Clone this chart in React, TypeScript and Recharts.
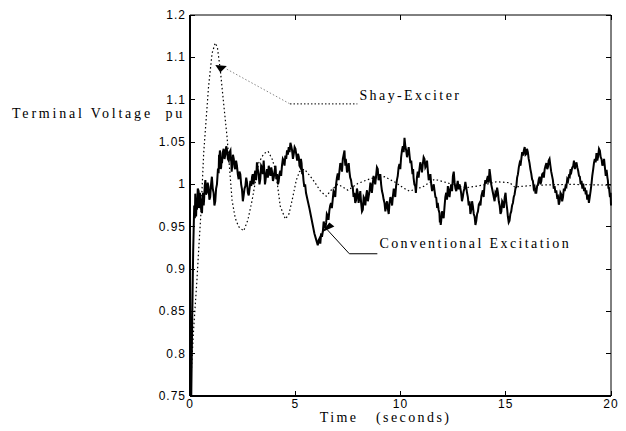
import React from 'react';
import {
  LineChart,
  Line,
  XAxis,
  YAxis,
  ReferenceLine,
  ReferenceDot,
} from 'recharts';

// time (s), terminal voltage (pu)
const shayPoints: [number, number][] = [
  [0, 0.75], [0.17, 0.828], [0.33, 0.887], [0.41, 0.922], [0.52, 0.966],
  [0.65, 1.037], [0.88, 1.115], [1.05, 1.155], [1.2, 1.167], [1.3, 1.162],
  [1.44, 1.135], [1.6, 1.095], [1.76, 1.056], [2.0, 0.981], [2.15, 0.96],
  [2.31, 0.95], [2.55, 0.945], [2.75, 0.958], [2.95, 0.981], [3.26, 1.025],
  [3.5, 1.036], [3.71, 1.039], [3.9, 1.03], [4.06, 1.017], [4.29, 0.974],
  [4.53, 0.959], [4.7, 0.965], [4.85, 0.981], [5.05, 1.005], [5.2, 1.015],
  [5.43, 1.018], [5.7, 1.01], [5.91, 1.003], [6.2, 0.992], [6.47, 0.986],
  [6.7, 0.993], [7.02, 1.0], [7.25, 0.997], [7.5, 0.993], [7.97, 1.001],
  [8.6, 1.007], [9.24, 1.009], [9.71, 1.003], [10.19, 0.995], [10.43, 0.992],
  [11.06, 0.997], [11.62, 1.006], [12.33, 1.001], [13.12, 0.996], [13.91, 0.999],
  [14.55, 1.003], [15.18, 1.002], [15.42, 0.997], [16.5, 0.999], [18, 1.0],
  [20, 0.999],
];

const conventionalPoints: [number, number][] = [
  [0, 0.955], [0.02, 0.76], [0.06, 0.75], [0.1, 0.83], [0.15, 0.92], [0.2, 0.975],
  [0.23, 0.96], [0.25, 0.989], [0.27, 0.97], [0.29, 0.962], [0.31, 0.98], [0.33, 0.97],
  [0.37, 0.995], [0.41, 0.992], [0.43, 0.972], [0.45, 0.975], [0.47, 0.99], [0.49, 0.985],
  [0.53, 0.97], [0.57, 0.966], [0.6, 0.985], [0.62, 0.99], [0.65, 0.975], [0.67, 0.982],
  [0.7, 0.998], [0.73, 1.005], [0.76, 0.988], [0.8, 0.99], [0.84, 1.002], [0.88, 0.997],
  [0.92, 0.982], [0.96, 0.985], [1.0, 1.0], [1.04, 1.009], [1.08, 0.995], [1.12, 0.99],
  [1.16, 0.975], [1.2, 0.98], [1.24, 0.995], [1.28, 1.0], [1.32, 1.015], [1.36, 1.013],
  [1.38, 1.035], [1.4, 1.03], [1.42, 1.04], [1.44, 1.037], [1.46, 1.018], [1.48, 1.02],
  [1.5, 1.03], [1.52, 1.025], [1.56, 1.038], [1.6, 1.042], [1.64, 1.03], [1.68, 1.035],
  [1.72, 1.045], [1.76, 1.04], [1.8, 1.03], [1.84, 1.028], [1.88, 1.038], [1.92, 1.04],
  [1.94, 1.03], [1.96, 1.027], [1.98, 1.015], [2.0, 1.021], [2.04, 1.035], [2.08, 1.03],
  [2.12, 1.02], [2.15, 1.018], [2.19, 1.028], [2.23, 1.022], [2.27, 1.012], [2.31, 1.006],
  [2.35, 1.015], [2.39, 1.012], [2.43, 1.0], [2.47, 0.994], [2.51, 0.98], [2.55, 0.987],
  [2.59, 0.995], [2.63, 0.998], [2.67, 1.008], [2.71, 1.002], [2.75, 0.99], [2.79, 0.987],
  [2.83, 0.995], [2.87, 1.004], [2.91, 0.998], [2.95, 1.009], [2.98, 1.012], [3.02, 1.0],
  [3.06, 1.01], [3.1, 1.016], [3.14, 1.005], [3.18, 1.026], [3.22, 1.018], [3.26, 1.012],
  [3.3, 1.0], [3.34, 1.006], [3.38, 1.022], [3.42, 1.02], [3.46, 1.012], [3.5, 1.028],
  [3.52, 1.02], [3.54, 1.01], [3.56, 1.0], [3.58, 1.003], [3.62, 1.012], [3.66, 1.018],
  [3.7, 1.008], [3.74, 1.022], [3.78, 1.015], [3.82, 1.01], [3.86, 1.02], [3.9, 1.015],
  [3.94, 1.004], [3.98, 1.008], [4.02, 1.016], [4.06, 1.022], [4.1, 1.006], [4.14, 1.012],
  [4.18, 1.0], [4.21, 1.003], [4.25, 1.012], [4.29, 1.016], [4.33, 1.01], [4.37, 1.022],
  [4.41, 1.03], [4.45, 1.028], [4.49, 1.022], [4.53, 1.034], [4.57, 1.03], [4.61, 1.04],
  [4.65, 1.035], [4.69, 1.044], [4.73, 1.038], [4.77, 1.049], [4.81, 1.045], [4.85, 1.04],
  [4.89, 1.03], [4.93, 1.036], [4.97, 1.044], [5.01, 1.042], [5.05, 1.035], [5.09, 1.028],
  [5.13, 1.036], [5.17, 1.032], [5.2, 1.022], [5.24, 1.02], [5.27, 1.03], [5.3, 1.025],
  [5.33, 1.012], [5.35, 1.018], [5.39, 1.005], [5.43, 0.997], [5.47, 1.0], [5.51, 0.99],
  [5.59, 0.981], [5.67, 0.972], [5.75, 0.962], [5.83, 0.952], [5.91, 0.942], [5.99, 0.935],
  [6.07, 0.928], [6.11, 0.934], [6.15, 0.936], [6.19, 0.93], [6.23, 0.942], [6.27, 0.938],
  [6.31, 0.944], [6.35, 0.956], [6.39, 0.952], [6.43, 0.948], [6.47, 0.955], [6.5, 0.965],
  [6.54, 0.963], [6.58, 0.958], [6.62, 0.969], [6.66, 0.975], [6.7, 0.978], [6.74, 0.972],
  [6.78, 0.982], [6.82, 0.992], [6.86, 0.99], [6.9, 0.985], [6.94, 1.0], [6.98, 1.008],
  [7.02, 1.013], [7.06, 1.005], [7.1, 1.016], [7.14, 1.025], [7.18, 1.022], [7.22, 1.015],
  [7.26, 1.03], [7.3, 1.035], [7.34, 1.04], [7.36, 1.028], [7.38, 1.022], [7.4, 1.03],
  [7.42, 1.026], [7.46, 1.014], [7.5, 1.02], [7.54, 1.025], [7.57, 1.016], [7.61, 1.008],
  [7.65, 1.005], [7.69, 0.998], [7.73, 0.997], [7.77, 0.985], [7.81, 0.99], [7.85, 0.978],
  [7.89, 0.981], [7.93, 0.995], [7.97, 0.99], [8.01, 0.978], [8.05, 0.985], [8.09, 0.992],
  [8.13, 0.978], [8.17, 0.968], [8.21, 0.97], [8.25, 0.985], [8.29, 0.983], [8.33, 0.975],
  [8.37, 0.987], [8.41, 0.993], [8.45, 0.98], [8.49, 0.986], [8.53, 0.992], [8.57, 1.002],
  [8.6, 0.998], [8.64, 0.99], [8.68, 1.0], [8.72, 1.01], [8.76, 1.006], [8.8, 1.0],
  [8.84, 1.01], [8.88, 1.02], [8.92, 1.018], [8.96, 1.005], [9.0, 1.008], [9.04, 1.012],
  [9.08, 1.0], [9.12, 0.992], [9.16, 0.988], [9.2, 0.982], [9.24, 0.978], [9.28, 0.968],
  [9.32, 0.975], [9.36, 0.98], [9.4, 0.971], [9.44, 0.965], [9.48, 0.978], [9.52, 0.985],
  [9.56, 0.982], [9.6, 0.975], [9.64, 0.986], [9.68, 0.995], [9.71, 0.99], [9.75, 0.985],
  [9.79, 0.998], [9.83, 1.005], [9.87, 1.01], [9.91, 1.02], [9.95, 1.024], [9.99, 1.018],
  [10.03, 1.032], [10.07, 1.04], [10.11, 1.045], [10.15, 1.038], [10.19, 1.055], [10.23, 1.045],
  [10.27, 1.04], [10.31, 1.032], [10.35, 1.038], [10.39, 1.044], [10.43, 1.034], [10.47, 1.025],
  [10.51, 1.028], [10.54, 1.02], [10.57, 1.012], [10.6, 1.018], [10.62, 1.008], [10.66, 1.0],
  [10.7, 0.998], [10.73, 0.99], [10.75, 0.996], [10.78, 1.008], [10.82, 1.015], [10.86, 1.008],
  [10.9, 1.018], [10.94, 1.026], [10.98, 1.021], [11.02, 1.014], [11.06, 1.024], [11.1, 1.032],
  [11.14, 1.03], [11.18, 1.02], [11.22, 1.022], [11.26, 1.028], [11.3, 1.016], [11.34, 1.005],
  [11.38, 1.008], [11.42, 1.012], [11.46, 1.0], [11.5, 0.992], [11.54, 0.996], [11.58, 1.0],
  [11.62, 0.992], [11.66, 0.985], [11.7, 0.984], [11.74, 0.972], [11.77, 0.978], [11.81, 0.97],
  [11.85, 0.966], [11.87, 0.955], [11.89, 0.962], [11.91, 0.952], [11.93, 0.956], [11.97, 0.968],
  [12.01, 0.965], [12.05, 0.96], [12.09, 0.973], [12.13, 0.985], [12.17, 0.99], [12.21, 0.982],
  [12.25, 0.998], [12.29, 0.99], [12.33, 0.985], [12.37, 0.995], [12.41, 1.0], [12.45, 0.992],
  [12.49, 1.01], [12.53, 1.015], [12.57, 1.002], [12.61, 0.995], [12.65, 0.992], [12.69, 1.0],
  [12.72, 1.004], [12.76, 0.994], [12.8, 1.0], [12.84, 0.996], [12.88, 0.99], [12.92, 0.98],
  [12.96, 0.985], [13.0, 0.992], [13.04, 0.995], [13.08, 1.003], [13.12, 0.997], [13.16, 0.99],
  [13.2, 0.985], [13.24, 0.975], [13.28, 0.98], [13.32, 0.965], [13.36, 0.97], [13.4, 0.98],
  [13.44, 0.974], [13.48, 0.965], [13.52, 0.962], [13.56, 0.952], [13.6, 0.957], [13.64, 0.965],
  [13.68, 0.968], [13.72, 0.976], [13.76, 0.978], [13.8, 0.975], [13.84, 0.986], [13.88, 0.99],
  [13.91, 0.993], [13.95, 0.985], [13.99, 0.998], [14.03, 1.005], [14.07, 1.001], [14.11, 1.006],
  [14.15, 1.01], [14.19, 1.002], [14.23, 1.018], [14.27, 1.01], [14.31, 1.0], [14.35, 0.995],
  [14.39, 0.99], [14.43, 0.985], [14.47, 0.98], [14.51, 0.99], [14.55, 0.988], [14.59, 0.996],
  [14.63, 0.99], [14.67, 0.98], [14.71, 0.975], [14.75, 0.965], [14.79, 0.968], [14.83, 0.98],
  [14.87, 0.978], [14.91, 0.972], [14.95, 0.985], [14.99, 0.99], [15.03, 0.978], [15.07, 0.97],
  [15.1, 0.962], [15.14, 0.955], [15.18, 0.957], [15.22, 0.965], [15.26, 0.968], [15.3, 0.975],
  [15.34, 0.978], [15.38, 0.985], [15.42, 0.988], [15.46, 0.995], [15.5, 0.997], [15.54, 1.008],
  [15.58, 1.012], [15.62, 1.02], [15.66, 1.025], [15.7, 1.022], [15.74, 1.03], [15.78, 1.038],
  [15.82, 1.034], [15.86, 1.04], [15.9, 1.044], [15.94, 1.035], [15.98, 1.036], [16.01, 1.042],
  [16.05, 1.038], [16.09, 1.03], [16.13, 1.025], [16.17, 1.018], [16.21, 1.013], [16.25, 1.006],
  [16.29, 1.004], [16.33, 0.995], [16.37, 0.997], [16.41, 0.99], [16.45, 0.99], [16.49, 0.998],
  [16.53, 1.0], [16.57, 1.006], [16.61, 1.009], [16.65, 1.0], [16.69, 1.004], [16.73, 1.012],
  [16.77, 1.013], [16.81, 1.008], [16.85, 1.018], [16.89, 1.022], [16.93, 1.025], [16.97, 1.018],
  [17.0, 1.02], [17.04, 1.028], [17.08, 1.03], [17.12, 1.022], [17.16, 1.015], [17.2, 1.01],
  [17.24, 1.005], [17.28, 0.995], [17.32, 0.998], [17.36, 0.99], [17.4, 0.993], [17.44, 0.985],
  [17.48, 0.986], [17.52, 0.976], [17.56, 0.98], [17.6, 0.99], [17.64, 0.988], [17.68, 0.98],
  [17.72, 0.985], [17.76, 0.995], [17.8, 0.992], [17.84, 0.998], [17.88, 0.997], [17.92, 1.006],
  [17.96, 1.004], [18.0, 1.01], [18.04, 1.009], [18.08, 1.018], [18.12, 1.015], [18.16, 1.02],
  [18.2, 1.021], [18.24, 1.028], [18.28, 1.018], [18.32, 1.022], [18.36, 1.026], [18.4, 1.02],
  [18.44, 1.016], [18.48, 1.01], [18.52, 1.009], [18.56, 1.0], [18.6, 1.004], [18.64, 0.995],
  [18.68, 1.001], [18.72, 0.992], [18.76, 0.996], [18.8, 0.988], [18.83, 0.993], [18.87, 0.982],
  [18.91, 0.988], [18.95, 0.978], [18.99, 0.985], [19.03, 0.992], [19.07, 1.0], [19.11, 1.01],
  [19.15, 1.017], [19.19, 1.025], [19.23, 1.03], [19.27, 1.026], [19.31, 1.037], [19.35, 1.028],
  [19.39, 1.033], [19.43, 1.042], [19.47, 1.04], [19.51, 1.032], [19.55, 1.03], [19.59, 1.022],
  [19.63, 1.025], [19.67, 1.03], [19.71, 1.02], [19.75, 1.01], [19.79, 1.017], [19.83, 1.008],
  [19.85, 1.005], [19.88, 0.995], [19.9, 0.997], [19.93, 0.99], [19.95, 0.985], [19.98, 0.99],
  [20, 0.975],
];

const xTicks = [0, 5, 10, 15, 20];
const yTicks = [0.75, 0.8, 0.85, 0.9, 0.95, 1, 1.05, 1.1, 1.15, 1.2];
// the original figure prints 1.15 as "1.1"
const yTickLabels = ['0.75', '0.8', '0.85', '0.9', '0.95', '1', '1.05', '1.1', '1.1', '1.2'];

const shayData = shayPoints.map(([t, v]) => ({ t, v }));
const conventionalData = conventionalPoints.map(([t, v]) => ({ t, v }));

const W = 626;
const H = 431;
const MARGIN = { top: 10, right: 10, bottom: 5, left: 0 };
const TOP_AXIS_H = 5;
const RIGHT_AXIS_W = 5;
const PLOT_TOP = MARGIN.top + TOP_AXIS_H;
const PLOT_RIGHT = W - MARGIN.right - RIGHT_AXIS_W;

const serif = '"Liberation Serif", "Times New Roman", serif';
const sans = '"Liberation Sans", Arial, sans-serif';
const TICK = 5; // inward tick length

// ticks point into the box on all four sides, MATLAB style
const LeftTick = ({ x, y, payload }: any) => (
  <g>
    <line x1={x + 4} x2={x + 4 + TICK} y1={y} y2={y} stroke="#000" shapeRendering="crispEdges" />
    <line x1={PLOT_RIGHT - TICK} x2={PLOT_RIGHT} y1={y} y2={y} stroke="#000" shapeRendering="crispEdges" />
    <text x={x} y={y} dy={4} textAnchor="end" fontFamily={sans} fontSize={12} letterSpacing={1} fill="#000">
      {yTickLabels[yTicks.indexOf(payload.value)]}
    </text>
  </g>
);

const BottomTick = ({ x, y, payload }: any) => (
  <g>
    <line x1={x} x2={x} y1={y - 12} y2={y - 12 - TICK} stroke="#000" shapeRendering="crispEdges" />
    <line x1={x} x2={x} y1={PLOT_TOP} y2={PLOT_TOP + TICK} stroke="#000" shapeRendering="crispEdges" />
    <text x={x} y={y} textAnchor="middle" fontFamily={sans} fontSize={12} letterSpacing={1} fill="#000">
      {payload.value}
    </text>
  </g>
);

const App = () => {
  return (
    <div style={{ position: 'absolute', left: 0, top: 0, width: W, height: H, background: '#fff' }}>
      <LineChart width={W} height={H} margin={MARGIN}>
        <XAxis
          type="number"
          dataKey="t"
          domain={[0, 20]}
          ticks={xTicks}
          height={30}
          tickSize={0}
          tickMargin={12}
          axisLine={{ stroke: '#000', strokeWidth: 2 }}
          tickLine={false}
          tick={BottomTick}
          label={{
            content: ({ viewBox }: any) => (
              <text
                x={viewBox.x + viewBox.width / 2 - 15}
                y={viewBox.y + 26}
                textAnchor="middle"
                fontFamily={serif}
                fontSize={14}
                letterSpacing={2.4}
                style={{ whiteSpace: 'pre' }}
              >
                {'Time   (seconds)'}
              </text>
            ),
          }}
        />
        <XAxis
          xAxisId="top"
          orientation="top"
          type="number"
          domain={[0, 20]}
          height={TOP_AXIS_H}
          axisLine={{ stroke: '#000', strokeWidth: 1 }}
          tickLine={false}
          tick={false}
        />
        <YAxis
          type="number"
          domain={[0.75, 1.2]}
          ticks={yTicks}
          width={190}
          tickSize={0}
          tickMargin={4}
          axisLine={{ stroke: '#000', strokeWidth: 2 }}
          tickLine={false}
          tick={LeftTick}
          label={{
            content: ({ viewBox }: any) => (
              <text
                x={viewBox.x + 12}
                y={viewBox.y + 103}
                fontFamily={serif}
                fontSize={14}
                letterSpacing={2.8}
                style={{ whiteSpace: 'pre' }}
              >
                {'Terminal Voltage  pu'}
              </text>
            ),
          }}
        />
        <YAxis
          yAxisId="right"
          orientation="right"
          type="number"
          domain={[0.75, 1.2]}
          width={RIGHT_AXIS_W}
          axisLine={{ stroke: '#000', strokeWidth: 1 }}
          tickLine={false}
          tick={false}
        />

        <Line
          data={shayData}
          dataKey="v"
          type="linear"
          stroke="#000"
          strokeWidth={1.2}
          strokeDasharray="1.5 2.5"
          dot={false}
          isAnimationActive={false}
        />
        <Line
          data={conventionalData}
          dataKey="v"
          type="linear"
          stroke="#000"
          strokeWidth={2}
          dot={false}
          isAnimationActive={false}
        />

        {/* Shay-Exciter annotation */}
        <ReferenceLine
          segment={[{ x: 1.75, y: 1.136 }, { x: 4.75, y: 1.095 }]}
          stroke="#888"
          strokeDasharray="1.5 2"
        />
        <ReferenceLine
          segment={[{ x: 4.75, y: 1.095 }, { x: 7.95, y: 1.095 }]}
          stroke="#000"
          strokeDasharray="1.5 2"
        />
        <ReferenceDot
          x={1.44}
          y={1.132}
          shape={({ cx, cy }: any) => (
            <polygon points={`${cx},${cy} ${cx - 5},${cy - 7.5} ${cx + 6.5},${cy - 6.5}`} fill="#000" />
          )}
        />
        <ReferenceDot
          x={8.05}
          y={1.1}
          shape={({ cx, cy }: any) => (
            <text x={cx} y={cy} fontFamily={serif} fontSize={14} letterSpacing={2.4}>
              Shay-Exciter
            </text>
          )}
        />

        {/* Conventional Excitation annotation */}
        <ReferenceLine
          segment={[{ x: 6.5, y: 0.947 }, { x: 7.57, y: 0.918 }]}
          stroke="#000"
        />
        <ReferenceLine
          segment={[{ x: 7.57, y: 0.918 }, { x: 8.9, y: 0.918 }]}
          stroke="#000"
        />
        <ReferenceDot
          x={6.24}
          y={0.943}
          shape={({ cx, cy }: any) => (
            <polygon points={`${cx},${cy} ${cx + 8},${cy - 10} ${cx + 13},${cy - 6}`} fill="#000" />
          )}
        />
        <ReferenceDot
          x={9.0}
          y={0.925}
          shape={({ cx, cy }: any) => (
            <text x={cx} y={cy} fontFamily={serif} fontSize={14} letterSpacing={2.4}>
              Conventional Excitation
            </text>
          )}
        />
      </LineChart>
    </div>
  );
};

export default App;
